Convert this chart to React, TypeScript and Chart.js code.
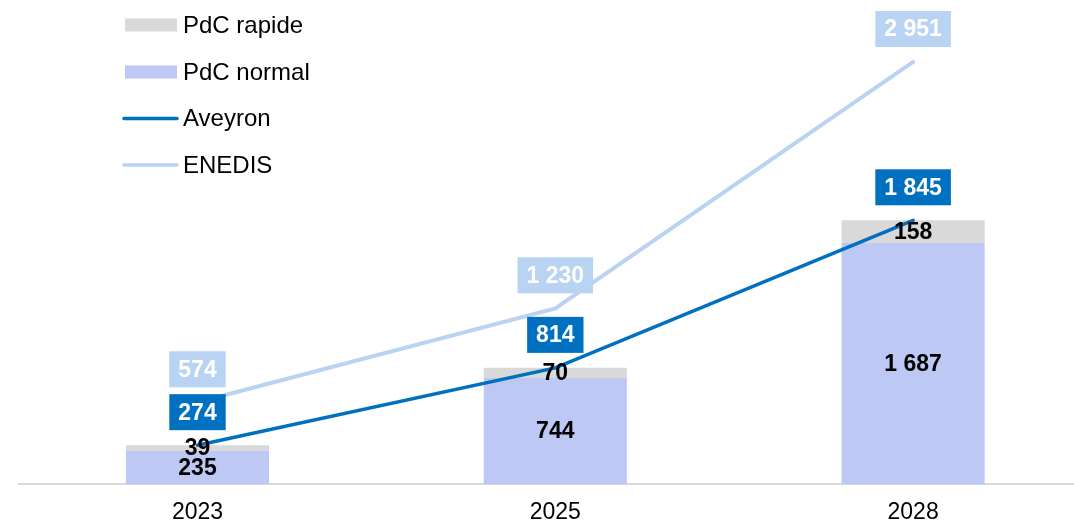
import React, { useEffect, useRef } from "react";
import { Chart, registerables } from "chart.js";

Chart.register(...registerables);

const categories = ["2023", "2025", "2028"];
const pdcNormal = [235, 744, 1687];
const pdcRapide = [39, 70, 158];
const aveyron = [274, 814, 1845];
const enedis = [574, 1230, 2951];

const COLOR_NORMAL = "#BDC8F4";
const COLOR_RAPIDE = "#D9D9D9";
const COLOR_AVEYRON = "#0070C0";
const COLOR_ENEDIS = "#B9D3F2";
const FONT = "'Liberation Sans', Arial, sans-serif";

const fmt = (n: number) => n.toString().replace(/\B(?=(\d{3})+(?!\d))/g, " ");

const labelPlugin = {
  id: "customLabels",
  afterDatasetsDraw(chart: any) {
    const ctx = chart.ctx;
    ctx.save();
    ctx.font = `bold 23px ${FONT}`;
    ctx.textAlign = "center";
    ctx.textBaseline = "middle";
    // bar labels
    chart.data.datasets.forEach((ds: any, i: number) => {
      if (ds.type !== "bar") return;
      const meta = chart.getDatasetMeta(i);
      meta.data.forEach((el: any, j: number) => {
        const { x, y, base } = el.getProps(["x", "y", "base"], true);
        ctx.fillStyle = "#000000";
        ctx.fillText(fmt(ds.data[j]), x, (y + base) / 2 + 1);
      });
    });
    // line labels
    chart.data.datasets.forEach((ds: any, i: number) => {
      if (ds.type !== "line") return;
      const meta = chart.getDatasetMeta(i);
      meta.data.forEach((el: any, j: number) => {
        const { x, y } = el.getProps(["x", "y"], true);
        const txt = fmt(ds.data[j]);
        const w = ctx.measureText(txt).width + 18;
        const h = 36;
        const cy = y - 33;
        ctx.fillStyle = ds.borderColor;
        ctx.fillRect(x - w / 2, cy - h / 2, w, h);
        ctx.fillStyle = "#FFFFFF";
        ctx.fillText(txt, x, cy + 1);
      });
    });
    ctx.restore();
  },
  afterDraw(chart: any) {
    const ctx = chart.ctx;
    ctx.save();
    const items = [
      { label: "PdC rapide", color: COLOR_RAPIDE, kind: "box", y: 25 },
      { label: "PdC normal", color: COLOR_NORMAL, kind: "box", y: 72 },
      { label: "Aveyron", color: COLOR_AVEYRON, kind: "line", y: 118.5 },
      { label: "ENEDIS", color: COLOR_ENEDIS, kind: "line", y: 165 },
    ];
    ctx.font = `24px ${FONT}`;
    ctx.textAlign = "left";
    ctx.textBaseline = "middle";
    items.forEach((it) => {
      if (it.kind === "box") {
        ctx.fillStyle = it.color;
        ctx.fillRect(125, it.y - 6.5, 52, 13);
      } else {
        ctx.strokeStyle = it.color;
        ctx.lineWidth = 3.5;
        ctx.lineCap = "round";
        ctx.beginPath();
        ctx.moveTo(124, it.y);
        ctx.lineTo(177, it.y);
        ctx.stroke();
      }
      ctx.fillStyle = "#000000";
      ctx.fillText(it.label, 183, it.y + 1);
    });
    ctx.restore();
  },
};

export default function App() {
  const ref = useRef<HTMLCanvasElement | null>(null);
  useEffect(() => {
    if (!ref.current) return;
    const chart = new Chart(ref.current, {
      type: "bar",
      data: {
        labels: categories,
        datasets: [
          {
            type: "line",
            label: "Aveyron",
            data: aveyron,
            borderColor: COLOR_AVEYRON,
            backgroundColor: COLOR_AVEYRON,
            borderWidth: 3.5,
            pointRadius: 0,
            borderCapStyle: "round",
            stack: "l1",
            order: 0,
          } as any,
          {
            type: "line",
            label: "ENEDIS",
            data: enedis,
            borderColor: COLOR_ENEDIS,
            backgroundColor: COLOR_ENEDIS,
            borderWidth: 4,
            pointRadius: 0,
            borderCapStyle: "round",
            stack: "l2",
            order: 1,
          } as any,
          {
            type: "bar",
            label: "PdC normal",
            data: pdcNormal,
            backgroundColor: COLOR_NORMAL,
            stack: "bars",
            barPercentage: 0.8,
            categoryPercentage: 0.5,
            order: 2,
          },
          {
            type: "bar",
            label: "PdC rapide",
            data: pdcRapide,
            backgroundColor: COLOR_RAPIDE,
            stack: "bars",
            barPercentage: 0.8,
            categoryPercentage: 0.5,
            order: 2,
          },
        ],
      },
      options: {
        responsive: true,
        maintainAspectRatio: false,
        animation: false,
        devicePixelRatio: 1,
        layout: { padding: { left: 18.6, right: 0, top: 12, bottom: 0 } },
        plugins: {
          legend: { display: false },
          tooltip: { enabled: false },
        },
        scales: {
          x: {
            stacked: true,
            grid: { display: false, drawTicks: false },
            border: { display: true, color: "#D9D9D9", width: 2 },
            ticks: {
              color: "#000000",
              padding: 14,
              font: { family: FONT, size: 23 },
            },
          },
          y: {
            stacked: true,
            display: false,
            min: 0,
            max: 3300,
          },
        },
      },
      plugins: [labelPlugin],
    });
    return () => chart.destroy();
  }, []);
  return (
    <div
      style={{
        position: "absolute",
        left: 0,
        top: 0,
        width: 1074,
        height: 524,
        overflow: "hidden",
        background: "#fff",
      }}
    >
      <div style={{ position: "relative", width: 1092, height: 540 }}>
        <canvas ref={ref} />
      </div>
    </div>
  );
}
